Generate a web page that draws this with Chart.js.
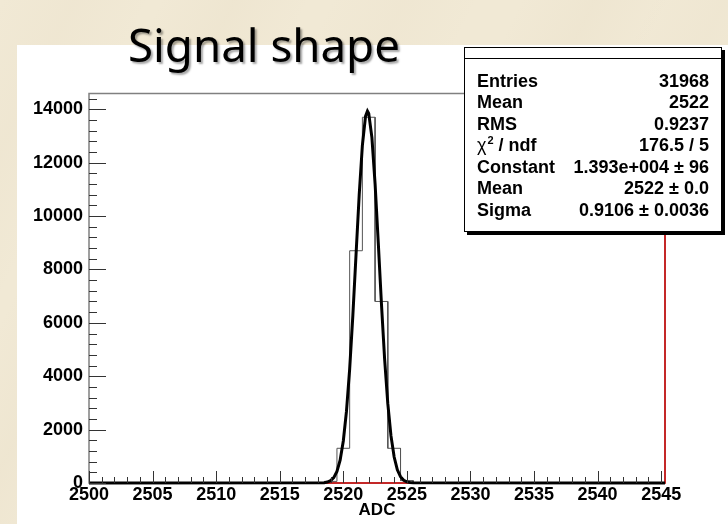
<!DOCTYPE html>
<html>
<head>
<meta charset="utf-8">
<script src="https://cdn.jsdelivr.net/npm/chart.js@4.4.0/dist/chart.umd.min.js"></script>
<style>
  html, body { margin: 0; padding: 0; background: #f1e9d5; }
  #wrap { width: 728px; height: 524px; position: relative; }
</style>
</head>
<body>
<div id="wrap"><canvas id="c" width="728" height="524"></canvas></div>
<script>
// histogram bins (bin centres, width 1 ADC count)
const binCentres = [2519, 2520, 2521, 2522, 2523, 2524, 2525];
const binCounts = [60, 1300, 8700, 13700, 6800, 1300, 90];

// gaussian fit curve
const fitX = [2500, 2518.5, 2518.75, 2519, 2519.25, 2519.5, 2519.75, 2520, 2520.25, 2520.5, 2520.75,
  2521, 2521.25, 2521.5, 2521.75, 2521.9, 2522, 2522.25, 2522.5, 2522.75, 2523, 2523.25, 2523.5,
  2523.75, 2524, 2524.25, 2524.5, 2524.75, 2525, 2525.25, 2525.5, 2545.3];
const fitY = [0, 13, 35, 87, 201, 430, 855, 1575, 2691, 4265, 6269,
  8542, 10793, 12647, 13742, 13930, 13846, 12937, 11208, 9006, 6709, 4635, 2970,
  1764, 972, 496, 235, 103, 42, 16, 6, 0];

// axes
const xMin = 2500, xMax = 2545.3;
const yMin = 0, yMax = 14590;
const xTickValues = [2500, 2505, 2510, 2515, 2520, 2525, 2530, 2535, 2540, 2545];
const yTickValues = [0, 2000, 4000, 6000, 8000, 10000, 12000, 14000];

// stats box
const statsLabels = ['Entries', 'Mean', 'RMS', 'χ2 / ndf', 'Constant', 'Mean', 'Sigma'];
const statsValues = ['31968', '2522', '0.9237', '176.5 / 5', '1.393e+004 ± 96', '2522 ± 0.0', '0.9106 ± 0.0036'];

const titleText = 'Signal shape';
const FONT = '"Liberation Sans", Arial, sans-serif';

// step outline of the histogram: two corners per bin
const histPoints = [{ x: xMin, y: 0 }];
binCentres.forEach((c, i) => {
  if (i === 0) histPoints.push({ x: c - 0.5, y: 0 });
  histPoints.push({ x: c - 0.5, y: binCounts[i] });
  histPoints.push({ x: c + 0.5, y: binCounts[i] });
});
histPoints.push({ x: binCentres[binCentres.length - 1] + 0.5, y: 0 });
histPoints.push({ x: xMax, y: 0 });

const fitPoints = fitX.map((x, i) => ({ x: x, y: fitY[i] }));
const redPoints = [{ x: xMin, y: 0 }, { x: xMax, y: 0 }, { x: xMax, y: yMax }];

const rootPad = {
  id: 'rootPad',
  beforeDraw(chart) {
    const ctx = chart.ctx;
    ctx.save();
    ctx.fillStyle = '#f1e9d5';
    ctx.fillRect(0, 0, 728, 524);
    // soft marble streaks
    const streaks = [[0, 0.04], [160, 0.05], [330, 0.035], [520, 0.05], [650, 0.04]];
    streaks.forEach(([x0, a]) => {
      const g = ctx.createLinearGradient(x0, 0, x0 + 120, 60);
      g.addColorStop(0, 'rgba(190,170,130,0)');
      g.addColorStop(0.5, 'rgba(190,170,130,' + a + ')');
      g.addColorStop(1, 'rgba(190,170,130,0)');
      ctx.fillStyle = g;
      ctx.fillRect(0, 0, 728, 524);
    });
    ctx.fillStyle = '#ffffff';
    ctx.fillRect(17, 45, 711, 479);
    ctx.restore();
  },
  beforeDatasetsDraw(chart) {
    const ctx = chart.ctx, a = chart.chartArea;
    ctx.save();
    ctx.strokeStyle = '#808080';
    ctx.lineWidth = 1.5;
    ctx.strokeRect(a.left, a.top, a.right - a.left, a.bottom - a.top);
    ctx.restore();
  },
  afterDatasetsDraw(chart) {
    const ctx = chart.ctx, a = chart.chartArea;
    const xs = chart.scales.x, ys = chart.scales.y;
    ctx.save();
    ctx.strokeStyle = '#333';
    ctx.lineWidth = 1;
    ctx.beginPath();
    for (let v = 2500; v <= 2545; v++) {
      const px = Math.round(xs.getPixelForValue(v)) + 0.5;
      const len = v % 5 === 0 ? 12 : 6;
      ctx.moveTo(px, a.bottom);
      ctx.lineTo(px, a.bottom - len);
    }
    for (let v = 0; v <= yMax; v += 400) {
      const py = Math.round(ys.getPixelForValue(v)) + 0.5;
      const len = v % 2000 === 0 ? 17 : 8;
      ctx.moveTo(a.left, py);
      ctx.lineTo(a.left + len, py);
    }
    ctx.stroke();
    ctx.restore();
  },
  afterDraw(chart) {
    const ctx = chart.ctx;
    ctx.save();
    // title
    ctx.font = '100px "Comic Sans MS", "Noto Sans", sans-serif';
    const w100 = ctx.measureText(titleText).width;
    const size = 100 * 272 / w100;
    ctx.font = size + 'px "Comic Sans MS", "Noto Sans", sans-serif';
    ctx.fillStyle = '#000';
    ctx.shadowColor = 'rgba(0,0,0,0.35)';
    ctx.shadowOffsetX = 2;
    ctx.shadowOffsetY = 2;
    ctx.shadowBlur = 2;
    ctx.textBaseline = 'alphabetic';
    ctx.fillText(titleText, 128, 62);
    ctx.shadowColor = 'transparent';

    // stats box
    const L = 464, T = 47, R = 722, B = 232;
    ctx.fillStyle = '#000';
    ctx.fillRect(L + 3, T + 3, R - L, B - T);
    ctx.fillStyle = '#fff';
    ctx.fillRect(L, T, R - L, B - T);
    ctx.strokeStyle = '#000';
    ctx.lineWidth = 1;
    ctx.strokeRect(L + 0.5, T + 0.5, R - L - 1, B - T - 1);
    ctx.beginPath();
    ctx.moveTo(L, 58.5);
    ctx.lineTo(R, 58.5);
    ctx.stroke();

    ctx.fillStyle = '#000';
    ctx.textBaseline = 'middle';
    statsLabels.forEach((lab, i) => {
      const y = 82 + i * 21.5;
      ctx.font = 'bold 18px ' + FONT;
      ctx.textAlign = 'left';
      if (lab.startsWith('χ2')) {
        ctx.font = '18px ' + FONT;
        ctx.fillText('χ', 477, y);
        const w = ctx.measureText('χ').width;
        ctx.font = 'bold 11px ' + FONT;
        ctx.fillText('2', 477 + w + 1, y - 6);
        ctx.font = 'bold 18px ' + FONT;
        ctx.fillText(' / ndf', 477 + w + 7, y);
      } else {
        ctx.fillText(lab, 477, y);
      }
      ctx.font = 'bold 18px ' + FONT;
      ctx.textAlign = 'right';
      ctx.fillText(statsValues[i], 709, y);
    });
    ctx.restore();
  }
};

const chart = new Chart(document.getElementById('c'), {
  type: 'line',
  data: {
    datasets: [
      {
        label: 'fit',
        data: fitPoints,
        borderColor: '#000',
        borderWidth: 3,
        pointRadius: 0,
        tension: 0,
        clip: 5,
        order: 0
      },
      {
        label: 'ADC',
        data: histPoints,
        borderColor: '#555',
        borderWidth: 1,
        pointRadius: 0,
        tension: 0,
        clip: 5,
        order: 1
      },
      {
        label: 'red',
        data: redPoints,
        borderColor: '#d00000',
        borderWidth: 1.5,
        pointRadius: 0,
        tension: 0,
        clip: 5,
        order: 2
      }
    ]
  },
  options: {
    responsive: false,
    animation: false,
    events: [],
    layout: { padding: { left: 0, top: 93.5, right: 63, bottom: 0 } },
    plugins: {
      legend: { display: false },
      title: { display: false },
      tooltip: { enabled: false }
    },
    scales: {
      x: {
        type: 'linear',
        min: xMin,
        max: xMax,
        grid: { display: false, drawTicks: false },
        border: { display: false },
        afterBuildTicks: s => { s.ticks = xTickValues.map(v => ({ value: v })); },
        afterFit: s => { s.height = 41; },
        ticks: {
          color: '#000',
          font: { family: FONT, size: 18, weight: 'bold' },
          padding: 1,
          maxRotation: 0,
          autoSkip: false,
          callback: v => String(v)
        },
        title: {
          display: true,
          text: 'ADC',
          color: '#000',
          font: { family: FONT, size: 17, weight: 'bold' },
          padding: { top: 0, bottom: 3 }
        }
      },
      y: {
        type: 'linear',
        min: yMin,
        max: yMax,
        grid: { display: false, drawTicks: false },
        border: { display: false },
        afterBuildTicks: s => { s.ticks = yTickValues.map(v => ({ value: v })); },
        afterFit: s => { s.width = 89; },
        ticks: {
          color: '#000',
          font: { family: FONT, size: 18, weight: 'bold' },
          padding: 6,
          callback: v => String(v)
        }
      }
    }
  },
  plugins: [rootPad]
});
</script>
</body>
</html>
